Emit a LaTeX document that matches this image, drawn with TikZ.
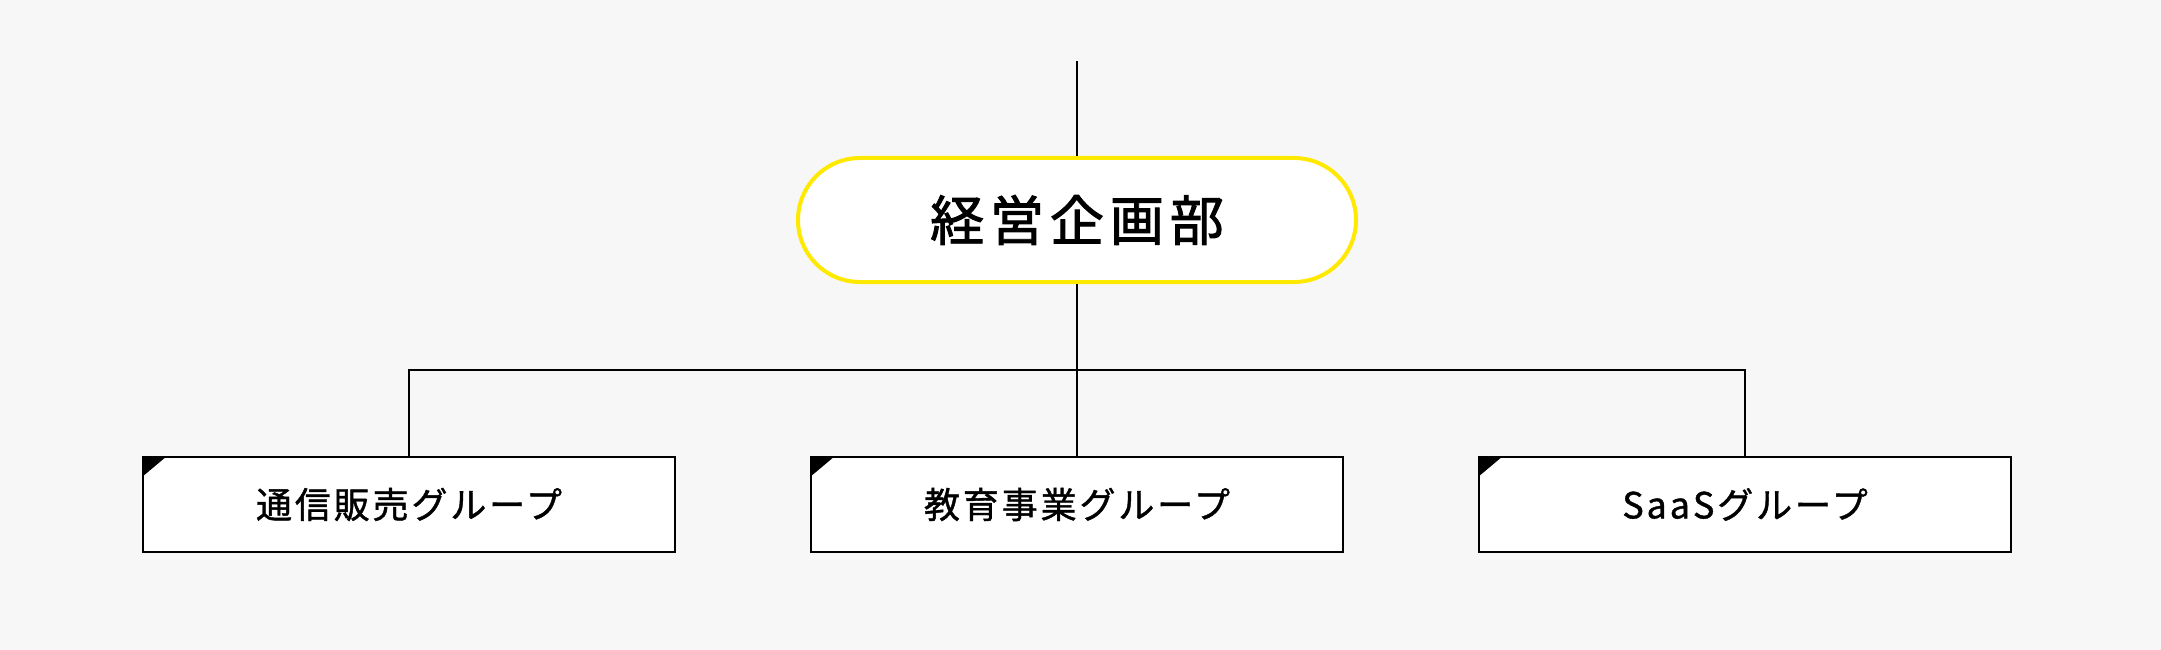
\documentclass[tikz,border=0pt]{standalone}
\usepackage{fontspec}
\setmainfont{Noto Sans CJK JP}
\newfontfamily\deptfont{Noto Sans CJK JP}[LetterSpace=11, FakeBold=1.8]
\newfontfamily\groupfont{Noto Sans CJK JP}[LetterSpace=8, FakeBold=1.1]
\usepackage{xcolor}
\usepackage{tikz}
\usetikzlibrary{positioning}
\definecolor{bggray}{HTML}{F7F7F7}
\definecolor{deptyellow}{HTML}{FFE900}
\tikzstyle{dept} = [rectangle, rounded corners=62pt, minimum width=558pt, minimum height=124pt, text centered, draw=deptyellow, line width=4pt, fill=white, font=\deptfont\fontsize{54pt}{60pt}\selectfont]
\tikzstyle{group} = [rectangle, minimum width=532pt, minimum height=95pt, text centered, draw=black, line width=2pt, fill=white, font=\groupfont\fontsize{36pt}{42pt}\selectfont]
\tikzstyle{line} = [line width=1.8pt]

\begin{document}
\begin{tikzpicture}
        \fill[bggray] (0,0) rectangle (2161pt,-650pt);
        \useasboundingbox (0,0) rectangle (2161pt,-650pt);

        \node (keiei) [dept] at (1077pt,-220pt) {経営企画部};
        \node (kyoiku) [group, below=172pt of keiei] {教育事業グループ};
        \node (tsuhan) [group, left=134pt of kyoiku] {通信販売グループ};
        \node (saas) [group, right=134pt of kyoiku] {SaaSグループ};
        \coordinate[above=95pt of keiei] (entry);

        \draw[line] (entry) -- (keiei);
        \draw[line] (keiei) -- (kyoiku);
        \draw[line] (tsuhan.north) -- ++(0,86pt) -| (saas.north);

        % corner marks
        \foreach \g in {tsuhan, kyoiku, saas}
            \fill (\g.north west) -- ++(25pt,0) -- ++(-25pt,-21pt) -- cycle;
    \end{tikzpicture}
\end{document}
